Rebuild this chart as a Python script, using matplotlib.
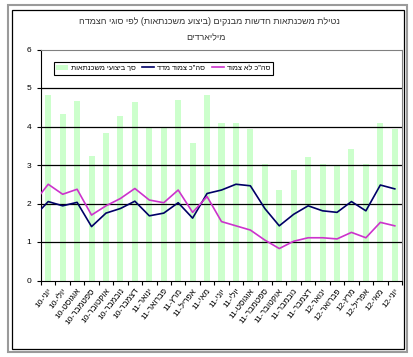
import matplotlib
matplotlib.use("Agg")
import matplotlib.pyplot as plt
from matplotlib.patches import Rectangle
import numpy as np

plt.rcParams['font.family'] = ['Liberation Sans', 'DejaVu Sans']

# ---- data ----
months = ["יוני", "יולי", "אוגוסט", "ספטמבר", "אוקטובר", "נובמבר", "דצמבר",
          "ינואר", "פברואר", "מרץ", "אפריל", "מאי", "יוני", "יולי", "אוגוסט",
          "ספטמבר", "אוקטובר", "נובמבר", "דצמבר", "ינואר", "פברואר", "מרץ",
          "אפריל", "מאי", "יוני"]
years = ["10"] * 7 + ["11"] * 12 + ["12"] * 6

total = [4.81, 4.32, 4.65, 3.23, 3.83, 4.26, 4.63, 3.97, 4.00, 4.70, 3.57, 4.81,
         4.09, 4.09, 3.93, 3.02, 2.35, 2.87, 3.21, 3.02, 2.97, 3.42, 3.02, 4.09, 3.93]
# line series start one month earlier (May-10), clipped at the axis edge
linked = [1.65, 2.05, 1.94, 2.03, 1.40, 1.75, 1.87, 2.06, 1.68, 1.75, 2.02, 1.62, 2.26,
          2.35, 2.50, 2.46, 1.87, 1.42, 1.72, 1.94, 1.81, 1.77, 2.05, 1.81, 2.48, 2.38]
unlinked = [2.02, 2.50, 2.24, 2.37, 1.70, 1.94, 2.13, 2.39, 2.09, 2.02, 2.35, 1.77, 2.18,
            1.53, 1.42, 1.31, 1.05, 0.83, 1.02, 1.11, 1.11, 1.08, 1.25, 1.11, 1.51, 1.42]

title = "נטילת משכנתאות חדשות מבנקים (ביצוע משכנתאות) לפי סוגי הצמדה"
subtitle = "מיליארדים"
lbl_total = "סך ביצועי משכנתאות"
lbl_linked = 'סה"כ צמוד מדד'
lbl_unlinked = 'סה"כ לא צמוד'


def vis(s):
    """Visual (left-to-right) order for a pure Hebrew string."""
    r = s[::-1]
    return r.translate(str.maketrans("()", ")("))


labels = [f"{y}-{m[::-1]}" for y, m in zip(years, months)]

# ---- figure ----
W, H = 413, 357
fig = plt.figure(figsize=(W / 100, H / 100), dpi=100)
fig.patch.set_facecolor("white")

# outer double frame
fig.patches.append(Rectangle((8 / W, 1 - 352 / H), 399 / W, 347 / H, transform=fig.transFigure,
                             fill=False, edgecolor="#9a9a9a", linewidth=1.5))
fig.patches.append(Rectangle((11.5 / W, 1 - 348.5 / H), 392.5 / W, 339 / H, transform=fig.transFigure,
                             fill=False, edgecolor="black", linewidth=0.9))

left, right = 41 / W, 402 / W
bottom, top = 1 - 280.5 / H, 1 - 49.5 / H
ax = fig.add_axes([left, bottom, right - left, top - bottom])

x = np.arange(len(total))
xl = np.arange(-1, len(total))

hb = ax.bar(x, total, width=0.42, color="#CCFFCC", label=vis(lbl_total), zorder=1)
hl, = ax.plot(xl, linked, color="#000066", linewidth=1.2, label=vis(lbl_linked), zorder=3)
hu, = ax.plot(xl, unlinked, color="#CC33CC", linewidth=1.2, label=vis(lbl_unlinked), zorder=3)

ax.set_xlim(-0.5, len(total) - 0.5)
ax.set_ylim(0, 6)
ax.set_yticks(range(0, 7))
ax.set_yticklabels([str(v) for v in range(0, 7)], fontsize=6)
for g in range(1, 6):
    ax.axhline(g, color="black", linewidth=0.9, zorder=2)

ax.set_xticks(np.arange(-0.5, len(total), 1.0))
ax.set_xticklabels([])
ax.set_xticks(x, minor=True)
ax.set_xticklabels(labels, minor=True, rotation=52, ha="right", va="top",
                   rotation_mode="anchor", fontsize=6)
ax.tick_params(axis="x", which="major", length=3, direction="out", width=0.8)
ax.tick_params(axis="x", which="minor", length=0, pad=5)
ax.tick_params(axis="y", length=3, direction="out", width=0.8, pad=4)

ax.spines["left"].set_color("black")
ax.spines["bottom"].set_color("black")
ax.spines["top"].set_color("#808080")
ax.spines["right"].set_color("#808080")
for s in ax.spines.values():
    s.set_linewidth(0.8)

leg = ax.legend([hb, hl, hu], [vis(lbl_total), vis(lbl_linked), vis(lbl_unlinked)],
                loc="upper left", bbox_to_anchor=(0.035, 0.945), ncol=3, fontsize=5.3,
                frameon=True, fancybox=False, edgecolor="black", framealpha=1,
                handlelength=1.6, handletextpad=0.4, columnspacing=0.9,
                borderpad=0.35, borderaxespad=0)
leg.get_frame().set_linewidth(0.8)

fig.text(209 / W, 1 - 22 / H, vis(title), ha="center", va="center", fontsize=6.5, color="#333333")
fig.text(206 / W, 1 - 38 / H, vis(subtitle), ha="center", va="center", fontsize=6.5, color="#333333")

fig.savefig("out.png", dpi=100)
